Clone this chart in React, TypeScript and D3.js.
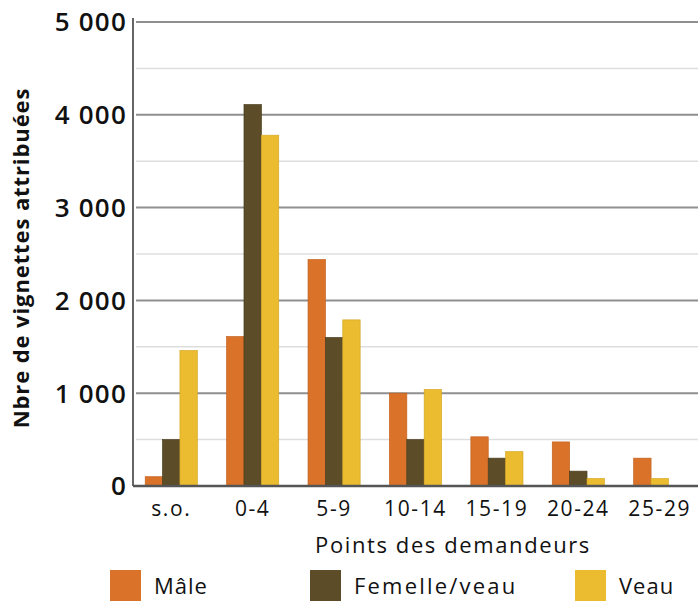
import React from "react";
import * as d3 from "d3";

const width = 698;
const height = 601;
const margin = { top: 22, right: 0, bottom: 115, left: 133 };

const categories = ["s.o.", "0-4", "5-9", "10-14", "15-19", "20-24", "25-29"];
const series = ["Mâle", "Femelle/veau", "Veau"];
const male = [100, 1610, 2440, 1000, 530, 475, 300];
const femaleCalf = [500, 4110, 1600, 500, 300, 160, 0];
const calf = [1460, 3780, 1790, 1040, 370, 80, 80];
const yTicks = [0, 1000, 2000, 3000, 4000, 5000];
const colors = ["#DA7229", "#5C4C27", "#EBBC30"];
const strokes = ["#C4621F", "#4A3D1E", "#D6A826"];

const values = [male, femaleCalf, calf];

const fmt = (v: number) => (v >= 1000 ? d3.format(",")(v).replace(",", " ") : String(v));

export default function App() {
  const x = d3
    .scaleBand<string>()
    .domain(categories)
    .range([margin.left, width - margin.right])
    .paddingInner(0.36)
    .paddingOuter(0.15);
  const y = d3
    .scaleLinear()
    .domain([0, 5000])
    .range([height - margin.bottom, margin.top]);
  const sub = x.bandwidth() / series.length;
  const grid = d3.range(500, 5001, 500);

  return (
    <svg width={width} height={height} style={{ position: "absolute", left: 0, top: 0 }}>
      <rect width={width} height={height} fill="#fff" />
      {grid.map((g) => (
        <line
          key={g}
          x1={margin.left + 3}
          x2={width}
          y1={y(g)}
          y2={y(g)}
          stroke={g % 1000 === 0 ? "#8f8f8f" : "#dedede"}
          strokeWidth={g % 1000 === 0 ? 2 : 1.5}
        />
      ))}
      {categories.map((c, i) => {
        const present = series.filter((_, s) => values[s][i] > 0);
        const inner = d3
          .scaleBand<string>()
          .domain(present)
          .range([0, sub * present.length]);
        return (
          <g key={c} transform={`translate(${x(c)},0)`}>
            {present.map((s) => {
              const si = series.indexOf(s);
              const v = values[si][i];
              return (
                <rect
                  key={s}
                  x={inner(s)}
                  y={y(v)}
                  width={inner.bandwidth()}
                  height={y(0) - y(v)}
                  fill={colors[si]}
                  stroke={strokes[si]}
                  strokeWidth={0.7}
                />
              );
            })}
          </g>
        );
      })}
      <line x1={margin.left} x2={margin.left} y1={margin.top - 4} y2={y(0)} stroke="#666" strokeWidth={2} />
      <line x1={margin.left} x2={width} y1={y(0)} y2={y(0)} stroke="#555" strokeWidth={2.5} />
      {yTicks.map((t) => (
        <text
          key={t}
          x={margin.left - 6}
          y={y(t)}
          dy="0.36em"
          textAnchor="end"
          fontFamily="Open Sans"
          fontWeight={600}
          fontSize={26}
          letterSpacing={1.2}
          fill="#111"
        >
          {fmt(t)}
        </text>
      ))}
      {categories.map((c) => (
        <text
          key={c}
          x={(x(c) as number) + x.bandwidth() / 2}
          y={516}
          textAnchor="middle"
          fontFamily="Open Sans"
          fontSize={21}
          letterSpacing={1.6}
          fill="#111"
        >
          {c}
        </text>
      ))}
      <text
        x={453}
        y={553}
        textAnchor="middle"
        fontFamily="Open Sans"
        fontSize={22}
        letterSpacing={1.6}
        fill="#111"
      >
        Points des demandeurs
      </text>
      <text
        transform={`translate(29,258) rotate(-90)`}
        textAnchor="middle"
        fontFamily="Open Sans"
        fontWeight={700}
        fontSize={22}
        letterSpacing={0.9}
        fill="#111"
      >
        Nbre de vignettes attribuées
      </text>
      {series.map((s, i) => {
        const lx = [110, 310, 575][i];
        return (
          <g key={s}>
            <rect x={lx} y={570} width={31} height={31} fill={colors[i]} />
            <text
              x={lx + 44}
              y={594}
              fontFamily="Open Sans"
              fontSize={22}
              letterSpacing={i === 1 ? 2.2 : 1}
              fill="#111"
            >
              {s}
            </text>
          </g>
        );
      })}
    </svg>
  );
}
